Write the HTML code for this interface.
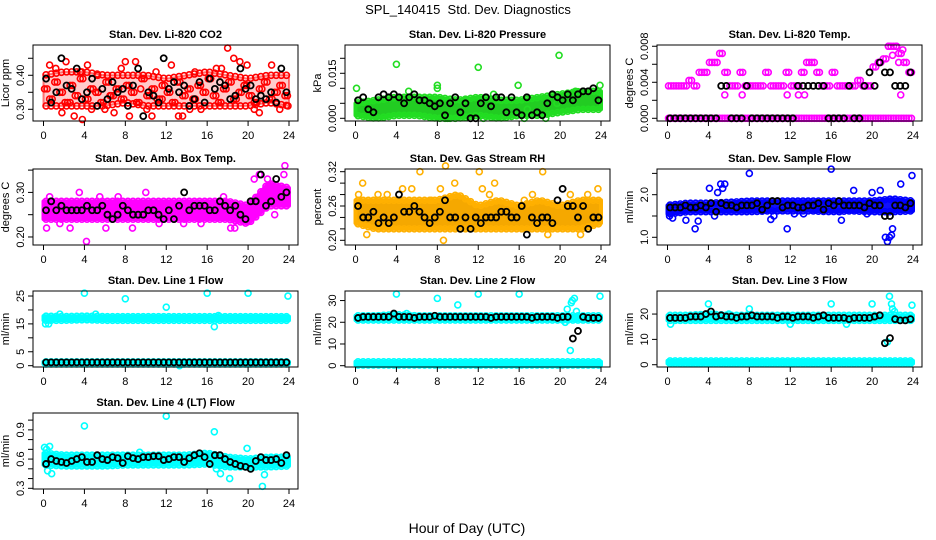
<!DOCTYPE html>
<html><head><meta charset="utf-8">
<style>
html,body{margin:0;padding:0;background:#fff;}
svg{display:block;font-family:"Liberation Sans",Arial,sans-serif;}
</style></head>
<body>
<svg id="chart" width="936" height="540" viewBox="0 0 936 540" xmlns="http://www.w3.org/2000/svg">
<text x="468" y="14" text-anchor="middle" font-size="13" style="white-space:pre">SPL_140415  Std. Dev. Diagnostics</text>
<text x="467" y="533" text-anchor="middle" font-size="14">Hour of Day (UTC)</text>
</svg>
<script>
const xTicks = [0,4,8,12,16,20,24];
const halfHours = [0.25,0.75,1.25,1.75,2.25,2.75,3.25,3.75,4.25,4.75,5.25,5.75,6.25,6.75,7.25,7.75,8.25,8.75,9.25,9.75,10.25,10.75,11.25,11.75,12.25,12.75,13.25,13.75,14.25,14.75,15.25,15.75,16.25,16.75,17.25,17.75,18.25,18.75,19.25,19.75,20.25,20.75,21.25,21.75,22.25,22.75,23.25,23.75];
const bandHours = [0,2,4,6,8,10,12,14,16,18,20,22,24];
const panelTitles = ["Stan. Dev. Li-820 CO2","Stan. Dev. Li-820 Pressure","Stan. Dev. Li-820 Temp.","Stan. Dev. Amb. Box Temp.","Stan. Dev. Gas Stream RH","Stan. Dev. Sample Flow","Stan. Dev. Line 1 Flow","Stan. Dev. Line 2 Flow","Stan. Dev. Line 3 Flow","Stan. Dev. Line 4 (LT) Flow"];
const yTitles = ["Licor ppm","kPa","degrees C","degrees C","percent","ml/min","ml/min","ml/min","ml/min","ml/min"];

// CO2
const co2BandLo = [0.31,0.31,0.31,0.31,0.32,0.31,0.31,0.31,0.31,0.31,0.31,0.32,0.31];
const co2BandHi = [0.40,0.41,0.41,0.40,0.40,0.40,0.39,0.40,0.41,0.40,0.39,0.40,0.40];
const co2OutHours = [0.6,1.2,1.8,2.2,2.6,3.0,3.6,3.8,4.3,4.7,5.3,6.0,6.5,6.9,7.6,8.0,8.4,9.0,9.5,10.1,10.6,11.0,11.6,12.5,13.2,13.6,14.3,14.8,15.4,16.9,17.4,18.0,18.6,19.2,19.9,20.6,21.1,22.3,23.1,23.9];
const co2OutValues = [0.43,0.42,0.29,0.44,0.32,0.28,0.41,0.27,0.43,0.30,0.40,0.30,0.34,0.29,0.42,0.44,0.28,0.44,0.36,0.30,0.28,0.41,0.33,0.43,0.28,0.28,0.30,0.41,0.30,0.42,0.42,0.48,0.45,0.44,0.43,0.30,0.29,0.43,0.30,0.31];
const co2Mid = [0.36,0.33,0.38,0.35,0.32,0.37,0.34,0.39,0.33,0.36,0.35,0.32,0.38,0.34,0.36,0.33,0.37,0.35,0.32,0.39,0.34,0.36,0.33,0.37,0.35,0.32,0.38,0.34,0.36,0.33,0.37,0.35,0.39,0.34,0.32,0.36,0.38,0.33,0.35,0.37,0.34,0.32,0.36,0.38,0.33,0.35,0.37,0.34];
const co2Black = [0.39,0.32,0.35,0.45,0.37,0.36,0.42,0.33,0.35,0.39,0.31,0.36,0.33,0.38,0.35,0.36,0.31,0.37,0.42,0.28,0.35,0.34,0.32,0.45,0.36,0.38,0.35,0.37,0.31,0.33,0.38,0.32,0.39,0.36,0.38,0.37,0.33,0.34,0.42,0.36,0.37,0.33,0.34,0.33,0.35,0.32,0.42,0.35];
// Pressure
const presBandLo = [0.001,0.000,0.001,0.001,0.000,0.000,0.001,0.000,0.001,0.001,0.002,0.003,0.003];
const presBandHi = [0.005,0.006,0.007,0.007,0.007,0.006,0.007,0.006,0.006,0.007,0.008,0.009,0.009];
const presOutHours = [0.1,0.3,1.5,4.0,5.2,8.0,8.0,9.0,10.7,12.0,12.5,13.5,15.9,16.5,16.8,18.6,19.7,19.9,21.5,23.9];
const presOutValues = [0.010,0.006,0.002,0.018,0.009,0.011,0.010,0.000,0.006,0.017,0.000,0.008,0.011,0.000,0.003,0.000,0.005,0.021,0.009,0.011];
const presBlack = [0.006,0.007,0.003,0.002,0.007,0.008,0.007,0.008,0.007,0.005,0.007,0.008,0.006,0.006,0.005,0.004,0.005,0.001,0.005,0.007,0.002,0.005,0.000,0.000,0.005,0.007,0.004,0.007,0.007,0.002,0.007,0.002,0.001,0.007,0.001,0.002,0.001,0.005,0.008,0.007,0.006,0.008,0.006,0.008,0.009,0.009,0.010,0.006];
// Li-820 temp
const tempHigh = [0.0036,0.0036,0.0036,0.0036,0.0042,0.0036,0.0051,0.0051,0.0062,0.0062,0.0072,0.0051,0.0036,0.0036,0.0051,0.0036,0.0036,0.0036,0.0036,0.0051,0.0036,0.0036,0.0036,0.0051,0.0036,0.0036,0.0051,0.0062,0.0062,0.0051,0.0036,0.0036,0.0051,0.0036,0.0036,0.0036,0.0036,0.0042,0.0036,0.0036,0.0057,0.0062,0.0066,0.0080,0.0080,0.0072,0.0062,0.0051];
const tempLow = [0,0,0,0,0,0,0,0,0,0,0,0,0,0,0,0,0,0,0,0,0,0,0,0,0,0,0,0,0,0,0,0,0,0,0,0,0,0,0,0,0,0,0,0,0,0,0,0];
const tempOutHours = [5.6,7.3,11.7,12.8,13.4,22.8,21.6,22.0,22.4,22.6,23.0];
const tempOutValues = [0.0026,0.0026,0.0026,0.0026,0.0026,0.0026,0.0080,0.0070,0.0080,0.0062,0.0076];
const tempBlack = [0,0,0,0,0,0,0,0,0,0,0.0036,0.0036,0,0,0,0.0036,0,0,0,0,0,0,0,0,0,0.0036,0.0036,0.0036,0.0036,0.0036,0.0036,0,0,0,0,0.0036,0,0,0.0036,0.0051,0.0036,0.0062,0.0051,0.0051,0.0036,0.0036,0.0036,0.0051];
// Amb box temp
const ambBandLo = [0.24,0.24,0.24,0.24,0.24,0.24,0.24,0.24,0.24,0.24,0.23,0.27,0.27];
const ambBandHi = [0.28,0.28,0.28,0.28,0.28,0.28,0.28,0.28,0.28,0.28,0.27,0.32,0.31];
const ambOutHours = [0.3,0.6,1.6,2.6,3.5,4.2,5.5,6.1,7.3,8.7,10.0,11.3,13.7,15.4,17.6,18.3,18.7,20.6,21.1,21.9,22.6,23.5,23.6];
const ambOutValues = [0.22,0.29,0.23,0.22,0.30,0.19,0.29,0.22,0.29,0.22,0.30,0.23,0.23,0.23,0.29,0.22,0.22,0.33,0.34,0.33,0.25,0.34,0.36];
const ambBlack = [0.26,0.28,0.26,0.27,0.26,0.26,0.26,0.26,0.27,0.26,0.26,0.27,0.25,0.24,0.25,0.27,0.26,0.25,0.25,0.25,0.26,0.26,0.25,0.24,0.26,0.24,0.27,0.30,0.26,0.27,0.27,0.27,0.26,0.26,0.28,0.27,0.26,0.27,0.25,0.24,0.28,0.28,0.34,0.27,0.28,0.33,0.29,0.30];
// RH
const rhBandLo = [0.23,0.22,0.22,0.22,0.22,0.22,0.22,0.22,0.22,0.22,0.22,0.22,0.23];
const rhBandHi = [0.27,0.27,0.27,0.27,0.27,0.28,0.26,0.27,0.26,0.27,0.26,0.27,0.27];
const rhOutHours = [0.3,0.7,1.1,2.2,3.1,4.6,5.5,6.3,7.4,8.3,8.6,8.8,9.7,12.1,12.4,13.1,13.6,16.5,17.3,18.3,18.8,21.0,22.0,22.7,23.7];
const rhOutValues = [0.28,0.30,0.21,0.28,0.28,0.29,0.29,0.32,0.27,0.29,0.20,0.33,0.30,0.32,0.29,0.28,0.30,0.27,0.28,0.32,0.21,0.28,0.21,0.28,0.29];
const rhBlack = [0.26,0.24,0.24,0.25,0.23,0.24,0.23,0.24,0.28,0.25,0.25,0.26,0.25,0.24,0.23,0.24,0.25,0.27,0.24,0.24,0.22,0.24,0.22,0.24,0.23,0.24,0.24,0.24,0.25,0.25,0.24,0.24,0.26,0.21,0.24,0.23,0.24,0.24,0.23,0.27,0.29,0.26,0.26,0.24,0.26,0.22,0.24,0.24];
// Sample flow
const sfBandLo = [1.55,1.60,1.60,1.60,1.60,1.62,1.62,1.62,1.60,1.62,1.60,1.60,1.62];
const sfBandHi = [1.75,1.80,1.80,1.82,1.85,1.85,1.85,1.85,1.85,1.85,1.85,1.90,1.85];
const sfOutHours = [0.2,0.5,1.8,2.7,3.0,4.1,4.6,4.9,5.2,5.4,5.6,8.0,10.1,10.4,11.7,12.4,13.3,16.0,16.8,17.0,18.2,19.5,20.0,20.8,21.3,21.5,21.7,21.9,22.0,22.8,23.9];
const sfOutValues = [1.50,1.45,1.40,1.20,1.38,2.15,1.50,2.05,2.25,2.15,2.25,2.50,1.42,1.50,1.20,1.55,1.55,2.60,1.60,1.40,2.10,1.55,2.05,2.10,1.00,0.90,1.00,1.05,1.20,2.25,2.45];
const sfBlack = [1.70,1.70,1.70,1.75,1.70,1.70,1.75,1.70,1.80,1.60,1.80,1.75,1.75,1.70,1.75,1.75,1.75,1.80,1.65,1.75,1.85,1.85,1.70,1.75,1.75,1.70,1.70,1.75,1.75,1.80,1.65,1.80,1.75,1.85,1.75,1.75,1.75,1.75,1.70,1.80,1.75,1.75,1.50,1.50,1.75,1.75,1.70,1.80];
// Line 1
const l1BandLo = [16.3,16.3,16.5,16.3,16.3,16.3,16.3,16.3,16.3,16.3,16.3,16.3,16.3];
const l1BandHi = [17.8,17.6,17.8,17.6,17.6,17.6,17.6,17.6,17.6,17.6,17.6,17.6,17.6];
const l1Band2Lo = [0.6,0.6,0.6,0.6,0.6,0.6,0.6,0.6,0.6,0.6,0.6,0.6,0.6];
const l1Band2Hi = [1.4,1.4,1.4,1.4,1.4,1.4,1.4,1.4,1.4,1.4,1.4,1.4,1.4];
const l1OutHours = [0.2,0.5,1.6,4.0,5.1,8.0,12.0,13.3,16.0,16.7,17.1,20.0,23.9];
const l1OutValues = [15,15,18.5,26,18.5,24,21,0,26,14,18,26,25];
const l1Black = [1.2,1.2,1.2,1.2,1.2,1.2,1.2,1.2,1.2,1.2,1.2,1.2,1.2,1.2,1.2,1.2,1.2,1.2,1.2,1.2,1.2,1.2,1.2,1.2,1.2,1.2,1.2,1.2,1.2,1.2,1.2,1.2,1.2,1.2,1.2,1.2,1.2,1.2,1.2,1.2,1.2,1.2,1.2,1.2,1.2,1.2,1.2,1.2];
// Line 2
const l2BandLo = [21,21,21,21,21,21,21,21,21,21,21,21,21];
const l2BandHi = [23,23,23.5,23,23,23,23,23,23,23,23,23,23];
const l2Band2Lo = [0.3,0.3,0.3,0.3,0.3,0.3,0.3,0.3,0.3,0.3,0.3,0.3,0.3];
const l2Band2Hi = [1.8,1.8,1.8,1.8,1.8,1.8,1.8,1.8,1.8,1.8,1.8,1.8,1.8];
const l2OutHours = [4.0,5.0,8.0,10.0,12.0,16.0,20.5,20.7,21.0,21.1,21.2,21.4,21.6,23.9];
const l2OutValues = [33,24,31,28,33,33,20,26,7,29,30,31,25,32];
const l2Black = [22,22.5,22.5,22.5,22.5,22.5,22.5,24,22.5,22.5,22.5,22,22.5,22.5,22.5,23,22.5,22.5,22.5,22.5,22.5,22.5,22.5,22.5,22.5,22.5,22,22.5,22.5,22.5,22.5,22.5,22.5,22.5,22,22.5,22.5,22.5,22.5,22,22.5,22.5,12.5,16,22.5,22,22,22];
// Line 3
const l3BandLo = [17.5,17.5,17.5,17.5,17.5,17.5,17.5,17.5,17.5,17.5,17.5,17.5,17.5];
const l3BandHi = [19.5,19.5,20,19.5,19.5,19.5,19.5,19.5,19.5,19.5,19.5,19.5,19.5];
const l3Band2Lo = [0.5,0.5,0.5,0.5,0.5,0.5,0.5,0.5,0.5,0.5,0.5,0.5,0.5];
const l3Band2Hi = [1.5,1.5,1.5,1.5,1.5,1.5,1.5,1.5,1.5,1.5,1.5,1.5,1.5];
const l3OutHours = [0.3,4.0,6.0,8.0,12.0,16.0,17.5,20.0,21.5,21.7,21.9,22.0,22.2,23.9];
const l3OutValues = [16,24,20,22,16,24,16,24,9,27,24,22,21,23.5];
const l3Black = [18.5,18.5,18.5,18.5,19,19,19,20,21,19,19.5,19,19,18.5,19,19,19.5,19,19,19,19,18.5,19,19,18.5,19,19,19,18.5,19,19.5,18.5,18.5,18.5,18.5,18,18.5,18.5,18.5,18.5,19,19.5,8.5,10.5,18,17.5,17.5,18];
// Line 4
const l4BandLo = [0.54,0.53,0.53,0.53,0.54,0.54,0.54,0.54,0.55,0.52,0.52,0.52,0.53];
const l4BandHi = [0.66,0.64,0.64,0.64,0.64,0.64,0.64,0.64,0.66,0.62,0.60,0.62,0.62];
const l4OutHours = [0.1,0.3,0.4,0.6,0.8,4.0,9.4,12.0,16.7,16.9,17.3,18.2,19.9,21.4,21.6];
const l4OutValues = [0.72,0.70,0.48,0.73,0.45,0.94,0.67,1.04,0.88,0.50,0.45,0.40,0.71,0.32,0.44];
const l4Black = [0.55,0.60,0.58,0.57,0.56,0.58,0.60,0.62,0.57,0.57,0.64,0.60,0.59,0.62,0.61,0.56,0.63,0.61,0.60,0.62,0.62,0.63,0.63,0.59,0.60,0.62,0.62,0.57,0.61,0.64,0.66,0.62,0.55,0.64,0.64,0.60,0.57,0.55,0.53,0.52,0.50,0.58,0.62,0.59,0.59,0.60,0.56,0.64];

const yTickVals = [[0.30,0.35,0.40,0.45],[0,0.005,0.010,0.015,0.020],[0,0.002,0.004,0.006,0.008],[0.20,0.25,0.30,0.35],[0.20,0.22,0.24,0.26,0.28,0.30,0.32],[1.0,1.5,2.0,2.5],[0,5,10,15,20,25],[0,10,20,30],[0,10,20],[0.3,0.4,0.5,0.6,0.7,0.8,0.9,1.0]];
const yTickLabels = [["0.30","","0.40",""],["0.000","","","0.015",""],["0.000","","0.004","","0.008"],["0.20","","0.30",""],["0.20","","","0.26","","","0.32"],["1.0","","2.0",""],["0","5","","15","","25"],["0","10","20","30"],["0","10","20"],["0.3","","","0.6","","","0.9",""]];

const NS = "http://www.w3.org/2000/svg";
const svg = document.getElementById("chart");
function mk(tag, attrs, parent){const e=document.createElementNS(NS,tag);for(const k in attrs)e.setAttribute(k,attrs[k]);(parent||svg).appendChild(e);return e;}

const panels = [
 {col:0,row:0,dom:[0.2656,0.489],color:"#ff0000",fill:"rgba(255,0,0,0.2)",bands:[[co2BandLo,co2BandHi]],dense:[co2Mid],oh:co2OutHours,ov:co2OutValues,black:co2Black,bw:"2"},
 {col:1,row:0,dom:[-0.0009,0.02443],color:"#22dd22",fill:"#22cc22",bands:[[presBandLo,presBandHi]],dense:[],oh:presOutHours,ov:presOutValues,black:presBlack,bw:"4"},
 {col:2,row:0,dom:[-0.0003,0.00814],color:"#ff00ff",fill:null,bands:[],dense:[tempHigh,tempLow],oh:tempOutHours,ov:tempOutValues,black:tempBlack,bw:"4"},
 {col:0,row:1,dom:[0.182,0.3525],color:"#ff00ff",fill:"#ff00ff",bands:[[ambBandLo,ambBandHi]],dense:[],oh:ambOutHours,ov:ambOutValues,black:ambBlack,bw:"4"},
 {col:1,row:1,dom:[0.1918,0.3247],color:"#ffb000",fill:"#f5a800",bands:[[rhBandLo,rhBandHi]],dense:[],oh:rhOutHours,ov:rhOutValues,black:rhBlack,bw:"4"},
 {col:2,row:1,dom:[0.819,2.603],color:"#0000ff",fill:"#1010ff",bands:[[sfBandLo,sfBandHi]],dense:[],oh:sfOutHours,ov:sfOutValues,black:sfBlack,bw:"4"},
 {col:0,row:2,dom:[-0.47,26.8],color:"#00ffff",fill:"#00ffff",bands:[[l1BandLo,l1BandHi],[l1Band2Lo,l1Band2Hi]],dense:[],oh:l1OutHours,ov:l1OutValues,black:l1Black,bw:"4"},
 {col:1,row:2,dom:[-0.6,34.4],color:"#00ffff",fill:"#00ffff",bands:[[l2BandLo,l2BandHi],[l2Band2Lo,l2Band2Hi]],dense:[],oh:l2OutHours,ov:l2OutValues,black:l2Black,bw:"4"},
 {col:2,row:2,dom:[-0.9,29.1],color:"#00ffff",fill:"#00ffff",bands:[[l3BandLo,l3BandHi],[l3Band2Lo,l3Band2Hi]],dense:[],oh:l3OutHours,ov:l3OutValues,black:l3Black,bw:"4"},
 {col:0,row:3,dom:[0.293,1.073],color:"#00ffff",fill:"#00ffff",bands:[[l4BandLo,l4BandHi]],dense:[],oh:l4OutHours,ov:l4OutValues,black:l4Black,bw:"4"}
];
const colLeft=[33,345,657], rowTop=[45,169,291,413], W=265, H=76;

function interp(arr,h){const i=Math.min(Math.floor(h/2),bandHours.length-2);const t=(h-bandHours[i])/2;return arr[i]*(1-t)+arr[i+1]*t;}

panels.forEach((p,pi)=>{
  const L=colLeft[p.col], T=rowTop[p.row], B=T+H;
  const g=mk("g",{});
  
  
  const xs=h=>L+10.5+h*(245.5/24);
  const ys=v=>B-(v-p.dom[0])/(p.dom[1]-p.dom[0])*H;
  const t=mk("text",{x:L+W/2,y:T-7,"text-anchor":"middle","font-size":"11","font-weight":"bold"},g);
  t.textContent=panelTitles[pi];
  
  
  const yt=mk("text",{transform:`translate(${L-24},${T+H/2}) rotate(-90)`,"text-anchor":"middle","font-size":"11"},g);
  yt.textContent=yTitles[pi];
  
  
  p.bands.forEach(bd=>{
    let pts=[];
    bandHours.forEach((h,i)=>pts.push(xs(h)+","+ys(bd[1][i])));
    for(let i=bandHours.length-1;i>=0;i--)pts.push(xs(bandHours[i])+","+ys(bd[0][i]));
    const poly=mk("polygon",{points:pts.join(" "),fill:p.fill,stroke:p.color,"stroke-width":p.bw,"stroke-linejoin":"round","stroke-opacity":pi===0?"0.5":"1"},g);
    
    
    halfHours.forEach(h=>{
      [bd[0],bd[1]].forEach(arr=>{
        const c=mk("circle",{cx:xs(h),cy:ys(interp(arr,h)),r:3,fill:"none",stroke:p.color,"stroke-width":"1.6"},g);
        
        
      });
    });
  });
  p.dense.forEach(arr=>{
    arr.forEach((v,i)=>{
      [-0.15,0.1].forEach(dx=>{
        const c=mk("circle",{cx:xs(halfHours[i]+dx),cy:ys(v),r:3,fill:"none",stroke:p.color,"stroke-width":"1.6"},g);
        
        
      });
    });
  });
  p.ov.forEach((v,i)=>{
    const c=mk("circle",{cx:xs(p.oh[i]),cy:ys(v),r:3,fill:"none",stroke:p.color,"stroke-width":"1.6"},g);
    
    
  });
  p.black.forEach((v,i)=>{
    const c=mk("circle",{cx:xs(halfHours[i]),cy:ys(v),r:3,fill:"none",stroke:"#000","stroke-width":"1.8"},g);
    
    
  });
  const box=mk("rect",{x:L,y:T,width:W,height:H,fill:"none",stroke:"#000","stroke-width":"1"},g);
  
  
  xTicks.forEach(h=>{
    mk("line",{x1:xs(h),x2:xs(h),y1:B,y2:B+5,stroke:"#000"},g);
    const lt=mk("text",{x:xs(h),y:B+18,"text-anchor":"middle","font-size":"11"},g);
    lt.textContent=h;
    
    
  });
  yTickVals[pi].forEach((v,i)=>{
    const y=ys(v);
    mk("line",{x1:L-5,x2:L,y1:y,y2:y,stroke:"#000"},g);
    if(yTickLabels[pi][i]){
      const lt=mk("text",{transform:`translate(${L-9},${y}) rotate(-90)`,"text-anchor":"middle","font-size":"11"},g);
      lt.textContent=yTickLabels[pi][i];
      
      
    }
  });
});
</script>
</body></html>
